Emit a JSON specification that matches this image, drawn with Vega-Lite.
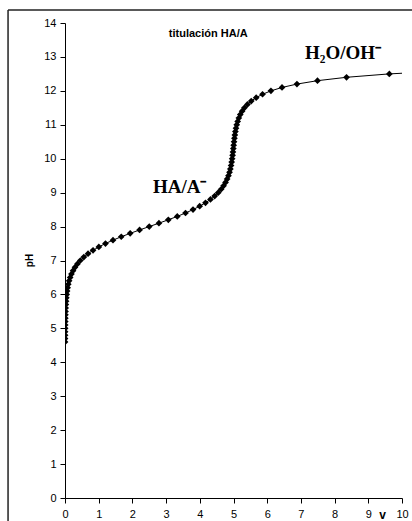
{
  "$schema": "https://vega.github.io/schema/vega-lite/v6.json",
  "width": 337,
  "height": 475,
  "autosize": {"type": "none"},
  "padding": {"left": 65, "top": 23, "right": 10, "bottom": 23},
  "background": "white",
  "config": {"view": {"stroke": null}, "font": "Liberation Sans"},
  "datasets": {
    "curve": [
      {"pH": 4.6, "v": 0.0007}, {"pH": 4.7, "v": 0.0015}, {"pH": 4.8, "v": 0.0024}, {"pH": 4.9, "v": 0.0033},
      {"pH": 5.0, "v": 0.0045}, {"pH": 5.1, "v": 0.0059}, {"pH": 5.2, "v": 0.0076}, {"pH": 5.3, "v": 0.0097},
      {"pH": 5.4, "v": 0.0124}, {"pH": 5.5, "v": 0.0156}, {"pH": 5.6, "v": 0.0197}, {"pH": 5.7, "v": 0.0248},
      {"pH": 5.8, "v": 0.0313}, {"pH": 5.9, "v": 0.0393}, {"pH": 6.0, "v": 0.0495}, {"pH": 6.1, "v": 0.0622},
      {"pH": 6.2, "v": 0.078}, {"pH": 6.3, "v": 0.0978}, {"pH": 6.4, "v": 0.1225}, {"pH": 6.5, "v": 0.1533},
      {"pH": 6.6, "v": 0.1914}, {"pH": 6.7, "v": 0.2387}, {"pH": 6.8, "v": 0.2968}, {"pH": 6.9, "v": 0.368},
      {"pH": 7.0, "v": 0.4545}, {"pH": 7.1, "v": 0.559}, {"pH": 7.2, "v": 0.684}, {"pH": 7.3, "v": 0.832},
      {"pH": 7.4, "v": 1.004}, {"pH": 7.5, "v": 1.201}, {"pH": 7.6, "v": 1.424}, {"pH": 7.7, "v": 1.669},
      {"pH": 7.8, "v": 1.934}, {"pH": 7.9, "v": 2.213}, {"pH": 8.0, "v": 2.5}, {"pH": 8.1, "v": 2.787},
      {"pH": 8.2, "v": 3.066}, {"pH": 8.3, "v": 3.331}, {"pH": 8.4, "v": 3.576}, {"pH": 8.5, "v": 3.799},
      {"pH": 8.6, "v": 3.996}, {"pH": 8.7, "v": 4.169}, {"pH": 8.8, "v": 4.316}, {"pH": 8.9, "v": 4.441},
      {"pH": 9.0, "v": 4.546}, {"pH": 9.1, "v": 4.633}, {"pH": 9.2, "v": 4.705}, {"pH": 9.3, "v": 4.763},
      {"pH": 9.4, "v": 4.811}, {"pH": 9.5, "v": 4.85}, {"pH": 9.6, "v": 4.882}, {"pH": 9.7, "v": 4.907},
      {"pH": 9.8, "v": 4.928}, {"pH": 9.9, "v": 4.946}, {"pH": 10.0, "v": 4.96}, {"pH": 10.1, "v": 4.973},
      {"pH": 10.2, "v": 4.984}, {"pH": 10.3, "v": 4.995}, {"pH": 10.4, "v": 5.005}, {"pH": 10.5, "v": 5.016},
      {"pH": 10.6, "v": 5.027}, {"pH": 10.7, "v": 5.04}, {"pH": 10.8, "v": 5.056}, {"pH": 10.9, "v": 5.074},
      {"pH": 11.0, "v": 5.096}, {"pH": 11.1, "v": 5.124}, {"pH": 11.2, "v": 5.158}, {"pH": 11.3, "v": 5.201},
      {"pH": 11.4, "v": 5.255}, {"pH": 11.5, "v": 5.324}, {"pH": 11.6, "v": 5.413}, {"pH": 11.7, "v": 5.527},
      {"pH": 11.8, "v": 5.673}, {"pH": 11.9, "v": 5.862}, {"pH": 12.0, "v": 6.111}, {"pH": 12.1, "v": 6.44},
      {"pH": 12.2, "v": 6.883}, {"pH": 12.3, "v": 7.492}, {"pH": 12.4, "v": 8.354}, {"pH": 12.5, "v": 9.624},
      {"pH": 12.6, "v": 11.614}
    ]
  },
  "layer": [
    {
      "data": {"name": "curve"},
      "mark": {"type": "line", "color": "black", "strokeWidth": 1, "clip": true},
      "encoding": {
        "x": {
          "field": "v", "type": "quantitative",
          "scale": {"domain": [0, 10], "nice": false, "zero": false},
          "axis": {
            "values": [0, 1, 2, 3, 4, 5, 6, 7, 8, 9, 10], "tickCount": 20, "format": "d",
            "grid": false, "tickSize": 5, "labelPadding": 5, "labelOverlap": false,
            "labelFontSize": 11, "labelColor": "black", "labelFlush": false,
            "domainColor": "black", "tickColor": "black",
            "title": "v", "titleFontSize": 12, "titleFontWeight": "bold", "titleColor": "black",
            "titleX": 317, "titleY": 20, "titleBaseline": "alphabetic", "titleAlign": "center"
          }
        },
        "y": {
          "field": "pH", "type": "quantitative",
          "scale": {"domain": [0, 14], "nice": false},
          "axis": {
            "values": [0, 1, 2, 3, 4, 5, 6, 7, 8, 9, 10, 11, 12, 13, 14], "tickCount": 20, "format": "d",
            "grid": false, "tickSize": 5, "labelPadding": 4, "labelOverlap": false,
            "labelFontSize": 11, "labelColor": "black", "labelFlush": false,
            "domainColor": "black", "tickColor": "black",
            "title": "pH", "titleFontSize": 10, "titleFontWeight": "bold", "titleColor": "black",
            "titleX": -33, "titleY": 237, "titleAngle": -90, "titleBaseline": "alphabetic", "titleAlign": "center"
          }
        }
      }
    },
    {
      "data": {"name": "curve"},
      "mark": {"type": "point", "shape": "diamond", "filled": true, "color": "black", "opacity": 1, "size": 45, "clip": true},
      "encoding": {
        "x": {"field": "v", "type": "quantitative"},
        "y": {"field": "pH", "type": "quantitative"}
      }
    },
    {
      "data": {"values": [{}]},
      "mark": {"type": "text", "text": "titulación HA/A", "font": "Liberation Sans", "fontSize": 11, "fontWeight": "bold", "align": "center", "baseline": "alphabetic", "color": "black"},
      "encoding": {"x": {"datum": 4.25, "type": "quantitative"}, "y": {"datum": 13.59, "type": "quantitative"}}
    },
    {
      "data": {"values": [{}]},
      "mark": {"type": "text", "text": "HA/A⁻", "font": "Liberation Serif", "fontSize": 19, "fontWeight": "bold", "align": "left", "baseline": "alphabetic", "color": "black"},
      "encoding": {"x": {"datum": 2.61, "type": "quantitative"}, "y": {"datum": 8.99, "type": "quantitative"}}
    },
    {
      "data": {"values": [{}]},
      "mark": {"type": "text", "text": "H₂O/OH⁻", "font": "Liberation Serif", "fontSize": 19, "fontWeight": "bold", "align": "left", "baseline": "alphabetic", "color": "black"},
      "encoding": {"x": {"datum": 7.12, "type": "quantitative"}, "y": {"datum": 12.93, "type": "quantitative"}}
    },
    {
      "data": {"values": [{}]},
      "mark": {"type": "rule", "color": "#222222", "strokeWidth": 1.5, "clip": false},
      "encoding": {
        "x": {"datum": -1.69, "type": "quantitative"},
        "y": {"datum": 14.38, "type": "quantitative"},
        "y2": {"datum": -1}
      }
    },
    {
      "data": {"values": [{}]},
      "mark": {"type": "rule", "color": "#222222", "strokeWidth": 1.5, "clip": false},
      "encoding": {
        "x": {"datum": -1.69, "type": "quantitative"},
        "x2": {"datum": 11},
        "y": {"datum": 14.38, "type": "quantitative"}
      }
    }
  ]
}
